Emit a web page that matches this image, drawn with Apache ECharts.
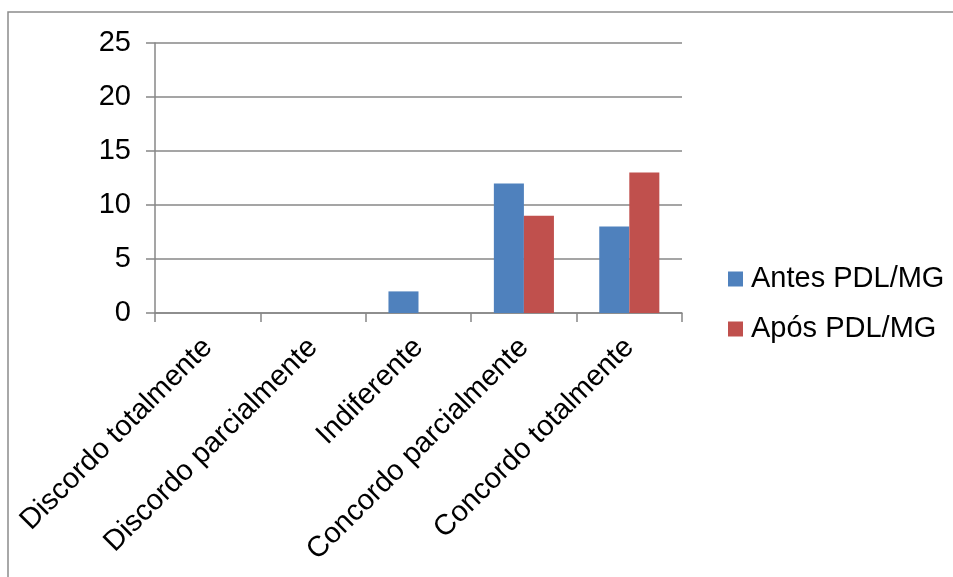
<!DOCTYPE html>
<html>
<head>
<meta charset="utf-8">
<script src="https://cdn.jsdelivr.net/npm/echarts@6/dist/echarts.min.js"></script>
<style>
  html, body { margin: 0; padding: 0; background: #fff; }
  #chart { width: 953px; height: 577px; }
</style>
</head>
<body>
<div id="chart"></div>
<script>
// Response categories (Likert scale)
const categories = [
  'Discordo totalmente',
  'Discordo parcialmente',
  'Indiferente',
  'Concordo parcialmente',
  'Concordo totalmente'
];
// Counts before and after the PDL/MG programme
const antesValues = [0, 0, 2, 12, 8];
const aposValues = [0, 0, 0, 9, 13];
const seriesNames = ['Antes PDL/MG', 'Após PDL/MG'];
// Value-axis range and step
const yMin = 0;
const yMax = 25;
const yStep = 5;

const FONT = '"Liberation Sans", Arial, sans-serif';
const GRID_COLOR = '#878787';

const chart = echarts.init(document.getElementById('chart'), null, { renderer: 'canvas' });

chart.setOption({
  backgroundColor: '#ffffff',
  animation: false,
  textStyle: { fontFamily: FONT },
  graphic: [{
    type: 'rect',
    shape: { x: 8, y: 12, width: 1000, height: 620 },
    style: { fill: 'none', stroke: '#8c8c8c', lineWidth: 1.5 },
    silent: true,
    z: -1
  }],
  grid: { left: 155, right: 271, top: 43, bottom: 264, containLabel: false },
  legend: {
    orient: 'vertical',
    left: 723,
    top: 259,
    itemWidth: 15,
    itemHeight: 15,
    itemGap: 20,
    icon: 'rect',
    data: seriesNames,
    textStyle: {
      fontFamily: FONT,
      fontSize: 29,
      color: '#000',
      lineHeight: 30,
      padding: [0, 0, 0, 3]
    }
  },
  xAxis: {
    type: 'category',
    data: categories,
    boundaryGap: true,
    axisLine: { show: true, lineStyle: { color: GRID_COLOR, width: 1.5 } },
    axisTick: { show: true, alignWithLabel: false, length: 9, lineStyle: { color: GRID_COLOR, width: 1.5 } },
    axisLabel: {
      interval: 0,
      rotate: 45,
      margin: 30,
      fontFamily: FONT,
      fontSize: 29,
      color: '#000'
    }
  },
  yAxis: {
    type: 'value',
    min: yMin,
    max: yMax,
    interval: yStep,
    axisLine: { show: true, lineStyle: { color: GRID_COLOR, width: 1.5 } },
    axisTick: { show: true, inside: false, length: 9, lineStyle: { color: GRID_COLOR, width: 1.5 } },
    splitLine: { show: true, lineStyle: { color: GRID_COLOR, width: 1.5 } },
    axisLabel: {
      margin: 24,
      fontFamily: FONT,
      fontSize: 29,
      color: '#000'
    }
  },
  series: [
    {
      name: seriesNames[0],
      type: 'bar',
      data: antesValues,
      barGap: '0%',
      barCategoryGap: '43%',
      itemStyle: { color: '#4f81bd' }
    },
    {
      name: seriesNames[1],
      type: 'bar',
      data: aposValues,
      barGap: '0%',
      barCategoryGap: '43%',
      itemStyle: { color: '#c0504d' }
    }
  ]
});
</script>
</body>
</html>
